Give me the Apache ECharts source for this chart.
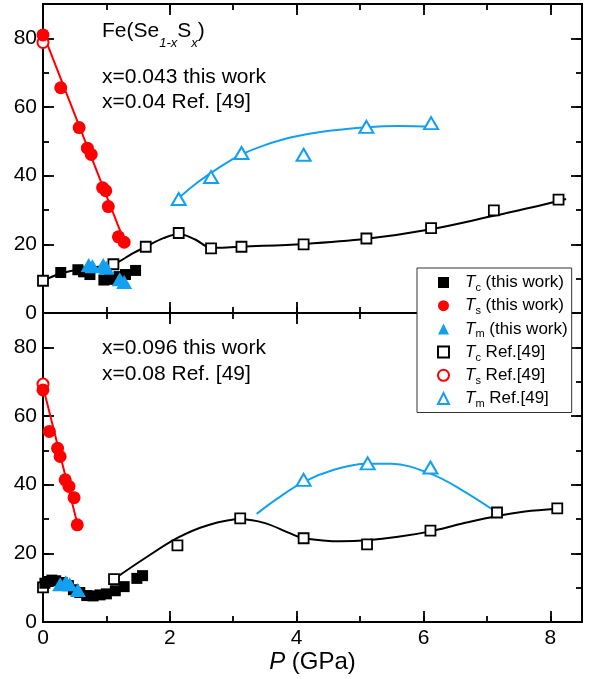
<!DOCTYPE html>
<html><head><meta charset="utf-8">
<script src="https://cdn.jsdelivr.net/npm/echarts@6/dist/echarts.min.js"></script>
<style>html,body{margin:0;padding:0;background:#fff}#c{width:594px;height:679px}</style>
</head><body><div id="c"></div>
<script>
// ---------- data (P in GPa, T in K) ----------
const topTcThis = [[0.28,11.8],[0.55,12.6],[0.64,12.0],[0.74,11.2],[0.96,9.6],[1.05,9.8],[1.2,10.6],[1.3,11.2],[1.46,12.4]];
const topTsThis = [[0,81],[0.28,65.6],[0.57,54],[0.7,48],[0.76,46.2],[0.94,36.5],[0.99,35.6],[1.03,31],[1.19,22.2],[1.28,20.6]];
const topTmThis = [[0.72,14.0],[0.78,13.6],[0.95,14.0],[1.0,13.2],[1.21,9.8],[1.28,9.0]];
const topTcRef = [[0,9.4],[1.11,14.2],[1.62,19.3],[2.14,23.3],[2.65,18.8],[3.13,19.3],[4.11,20.0],[5.1,21.7],[6.12,24.7],[7.11,29.9],[8.13,33.0]];
const topTsRef = [[0,78.8]];
const topTmRef = [[2.14,33.2],[2.65,39.6],[3.13,46.6],[4.11,46.1],[5.1,54.2],[6.12,55.3]];
const topTsFit = [[0,81.5],[1.3,20]];
const topTcFit = [[0,9.4],[0.28,11.5],[0.55,12.6],[0.8,13.3],[1.11,14.2],[1.4,17.2],[1.62,19.3],[1.9,21.8],[2.14,23.0],[2.4,21.4],[2.65,19.0],[2.9,19.1],[3.13,19.3],[4.11,20.1],[5.1,21.6],[6.12,24.4],[7.11,28.3],[7.7,30.7],[8.25,33.2]];
const topTmFit = [[2.14,33.5],[2.4,37.5],[2.65,40.8],[2.9,43.8],[3.13,46.2],[3.5,48.9],[3.9,51.1],[4.4,52.8],[5.1,54.1],[5.6,54.5],[6.2,54.2]];

const botTcThis = [[0.03,11.3],[0.08,11.8],[0.14,12.2],[0.2,12.0],[0.3,11.5],[0.4,10.6],[0.48,9.4],[0.58,8.6],[0.69,7.7],[0.79,7.6],[0.9,7.9],[1.0,8.2],[1.14,9.1],[1.28,10.3],[1.48,12.7],[1.57,13.5]];
const botTsThis = [[0,67.6],[0.1,55.5],[0.23,50.6],[0.27,48.2],[0.35,41.4],[0.41,39.5],[0.49,36.2],[0.54,28.3]];
const botTmThis = [[0.27,11],[0.36,11.6],[0.42,11],[0.55,9.3]];
const botTcRef = [[0,10.1],[1.12,12.5],[2.12,22.3],[3.11,30.2],[4.11,24.4],[5.11,22.6],[6.11,26.6],[7.16,31.9],[8.11,33.1]];
const botTsRef = [[0,69.3]];
const botTmRef = [[4.11,41.4],[5.12,46.2],[6.11,45.0]];
const botTsFit = [[0,68.5],[0.55,28]];
const botTcFit = [[1.12,12.5],[1.6,18.5],[2.12,24.5],[2.6,28.2],[3.11,29.9],[3.5,28.8],[3.9,25.8],[4.11,24.4],[4.7,23.5],[5.11,23.8],[5.6,24.8],[6.11,26.4],[6.6,28.6],[7.16,30.9],[7.6,32.2],[8.11,33.0]];
const botTmFit = [[3.37,31.5],[3.7,36],[4.11,40.8],[4.6,44.4],[5.1,46.1],[5.5,46.1],[6.11,43.2],[6.6,38.5],[7.16,31.9]];

const legendNames = ['Tc (this work)','Ts (this work)','Tm (this work)','Tc Ref.[49]','Ts Ref.[49]','Tm Ref.[49]'];
const legendParts = {'Tc (this work)':['c',' (this work)'],'Ts (this work)':['s',' (this work)'],'Tm (this work)':['m',' (this work)'],
  'Tc Ref.[49]':['c',' Ref.[49]'],'Ts Ref.[49]':['s',' Ref.[49]'],'Tm Ref.[49]':['m',' Ref.[49]']};

// ---------- styling ----------
const FONT = 'Liberation Sans, Arial, Helvetica, sans-serif';
const RED = '#ff0000', BLUE = '#14a0f0', BLACK = '#000';

function mkX(gi, pos, interval, len, labels, name) {
  const a = {type:'value', gridIndex:gi, position:pos, min:0, max:8.5, interval:interval,
    axisLine:{onZero:false, lineStyle:{color:'#000', width:2}},
    axisTick:{inside:true, length:len, lineStyle:{color:'#000', width:1.8}},
    axisLabel:{show:labels, formatter: v => (v % 2 === 0 ? String(v) : ''), fontSize:21, fontFamily:FONT, color:'#000', margin:6},
    splitLine:{show:false}};
  if (name) {
    a.name = '{i|P} (GPa)'; a.nameLocation = 'middle'; a.nameGap = 26;
    a.nameTextStyle = {fontSize:24, fontFamily:FONT, color:'#000', rich:{i:{fontStyle:'italic', fontSize:24, fontFamily:FONT, color:'#000'}}};
  }
  return a;
}
function mkY(gi, pos, interval, len, labels) {
  return {type:'value', gridIndex:gi, position:pos, min:0, max:90, interval:interval,
    axisLine:{onZero:false, lineStyle:{color:'#000', width:2}},
    axisTick:{inside:true, length:len, lineStyle:{color:'#000', width:1.8}},
    axisLabel:{show:labels, formatter: v => (v % 20 === 0 ? String(v) : ''), fontSize:21, fontFamily:FONT, color:'#000', margin:6},
    splitLine:{show:false}};
}
const xAxes = [], yAxes = [];
[0,1].forEach(gi => {
  xAxes.push(mkX(gi,'bottom',2,11,gi===1,gi===1), mkX(gi,'bottom',1,6,false), mkX(gi,'top',2,11,false), mkX(gi,'top',1,6,false));
  yAxes.push(mkY(gi,'left',20,11,true), mkY(gi,'left',10,6,false), mkY(gi,'right',20,11,false), mkY(gi,'right',10,6,false));
});

function sc(name, data, gi, symbol, size, fill, stroke, bw, z) {
  return {type:'scatter', name, data, xAxisIndex:gi*4, yAxisIndex:gi*4, symbol, symbolSize:size,
    itemStyle:{color:fill, borderColor:stroke, borderWidth:bw, opacity:1}, z:z, emphasis:{disabled:true}};
}
function ln(data, gi, color, smooth) {
  return {type:'line', data, xAxisIndex:gi*4, yAxisIndex:gi*4, smooth:smooth, showSymbol:false, symbol:'none',
    lineStyle:{color, width:2}, silent:true, z:1};
}

const series = [];
[[0,[topTcThis,topTsThis,topTmThis,topTcRef,topTsRef,topTmRef],[topTsFit,topTcFit,topTmFit]],
 [1,[botTcThis,botTsThis,botTmThis,botTcRef,botTsRef,botTmRef],[botTsFit,botTcFit,botTmFit]]].forEach(([gi, d, f]) => {
  series.push(ln(f[0], gi, RED, false), ln(f[1], gi, BLACK, 0.35), ln(f[2], gi, BLUE, 0.35));
  series.push(sc(legendNames[3], d[3], gi, 'rect', 10, '#fff', BLACK, 1.8, 3));
  series.push(sc(legendNames[5], d[5], gi, 'triangle', [14,12], '#fff', BLUE, 2, 3));
  series.push(sc(legendNames[0], d[0], gi, 'rect', 11, BLACK, BLACK, 0, 4));
  series.push(sc(legendNames[2], d[2], gi, 'triangle', [16,14], BLUE, BLUE, 0, 5));
  series.push(sc(legendNames[4], d[4], gi, 'circle', 11, '#fff', RED, 2, 4));
  series.push(sc(legendNames[1], d[1], gi, 'circle', 13, RED, RED, 0, 6));
});

const chart = echarts.init(document.getElementById('c'), null, {renderer:'canvas'});
chart.setOption({
  animation:false,
  backgroundColor:'#fff',
  grid:[{left:43, top:4, width:539, height:309}, {left:43, top:313, width:539, height:309}],
  xAxis:xAxes, yAxis:yAxes,
  legend:{orient:'vertical', left:417, top:268, padding:[6,4,3,20], itemGap:3.7, itemWidth:11, itemHeight:11,
    backgroundColor:'#fff', borderColor:'#333', borderWidth:1, borderRadius:0, selectedMode:false,
    data:legendNames,
    formatter: n => '{g|}{i|T}{s|' + legendParts[n][0] + '}{t|' + legendParts[n][1] + '}',
    textStyle:{fontSize:17, fontFamily:FONT, color:'#000',
      rich:{g:{width:11, lineHeight:22}, i:{fontStyle:'italic', fontSize:17, fontFamily:FONT, lineHeight:22, color:'#000'},
        s:{fontSize:11, fontFamily:FONT, lineHeight:11, verticalAlign:'bottom', color:'#000'},
        t:{fontSize:17, fontFamily:FONT, lineHeight:22, color:'#000'}}}},
  graphic:[
    {type:'text', x:102, y:31.5, z:10, style:{text:'{m|Fe(Se}{s|1-x}{m|S}{s|x}{m|)}', fill:'#000', verticalAlign:'middle',
      rich:{m:{fontSize:21, fontFamily:FONT, lineHeight:37, fill:'#000'}, s:{fontSize:13, fontStyle:'italic', fontFamily:FONT, lineHeight:13, verticalAlign:'bottom', fill:'#000'}}}},
    {type:'text', x:102, y:77, z:10, style:{text:'x=0.043 this work', fontSize:21, fontFamily:FONT, fill:'#000', verticalAlign:'middle'}},
    {type:'text', x:102, y:102, z:10, style:{text:'x=0.04 Ref. [49]', fontSize:21, fontFamily:FONT, fill:'#000', verticalAlign:'middle'}},
    {type:'text', x:102, y:348, z:10, style:{text:'x=0.096 this work', fontSize:21, fontFamily:FONT, fill:'#000', verticalAlign:'middle'}},
    {type:'text', x:102, y:374, z:10, style:{text:'x=0.08 Ref. [49]', fontSize:21, fontFamily:FONT, fill:'#000', verticalAlign:'middle'}}
  ],
  series:series
});
</script></body></html>
